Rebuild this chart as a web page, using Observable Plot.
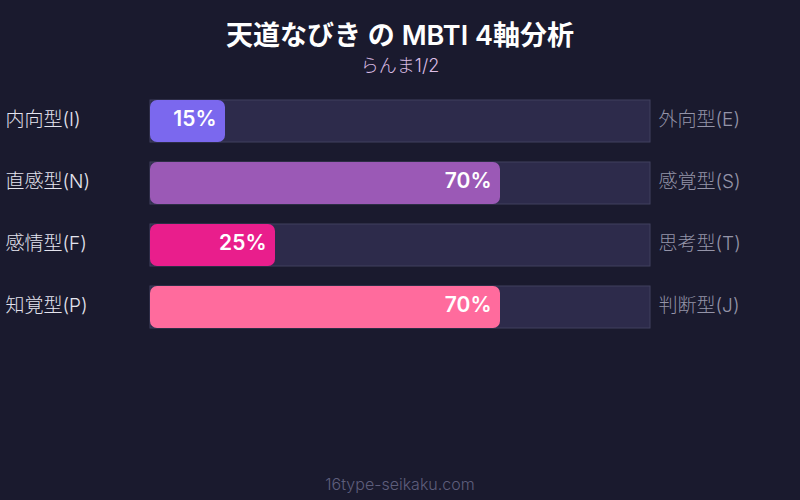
<!DOCTYPE html>
<html><head><meta charset="utf-8">
<script src="https://cdn.jsdelivr.net/npm/d3@7"></script>
<script src="https://cdn.jsdelivr.net/npm/@observablehq/plot@0.6"></script>
<style>
html,body{margin:0;padding:0;background:#1a1a2e;width:800px;height:500px;overflow:hidden;font-family:Inter,"Noto Sans CJK JP",sans-serif;}
#title{position:absolute;left:0;top:14px;width:800px;text-align:center;color:#ffffff;font-size:27px;font-weight:600;}
#sub{position:absolute;left:0;top:51px;width:800px;text-align:center;color:#dcbde4;font-size:18px;font-weight:300;}
#chart{position:absolute;left:0;top:80px;}
#foot{position:absolute;left:0;top:474px;width:800px;text-align:center;color:#5e5e7c;font-size:16px;font-weight:300;}
</style></head>
<body>
<div id="title">天道なびき の MBTI 4軸分析</div>
<div id="sub">らんま1/2</div>
<div id="chart"></div>
<div id="foot">16type-seikaku.com</div>
<script>
const axes = ["IE","NS","FT","PJ"];
const leftLabels = ["内向型(I)","直感型(N)","感情型(F)","知覚型(P)"];
const rightLabels = ["外向型(E)","感覚型(S)","思考型(T)","判断型(J)"];
const values = [15,70,25,70];
const colors = ["#7b68ee","#9b59b6","#e91e8c","#ff6b9d"];

const data = axes.map((a,i)=>({axis:a,left:leftLabels[i],right:rightLabels[i],value:values[i],color:colors[i]}));

const chart = Plot.plot({
  width:800, height:380,
  marginLeft:150, marginRight:150, marginTop:0, marginBottom:112,
  style:{background:"transparent", fontFamily:'Inter,"Noto Sans CJK JP",sans-serif'},
  x:{domain:[0,100], axis:null},
  y:{domain:axes, padding:20/62, axis:null},
  marks:[
    Plot.barX(data,{x1:0,x2:100,y:"axis",fill:"#2d2b4b",stroke:"#40405e",strokeWidth:1}),
    Plot.barX(data,{x1:0,x2:"value",y:"axis",fill:"color",rx:7}),
    Plot.text(data,{x:"value",y:"axis",text:d=>d.value+"%",textAnchor:"end",dx:-9,dy:-2,fill:"#ffffff",fontSize:21,fontWeight:600}),
    Plot.text(data,{x:0,y:"axis",text:"left",textAnchor:"start",dx:-145,dy:-2,fill:"#e4e4ee",fontSize:19,fontWeight:300}),
    Plot.text(data,{x:100,y:"axis",text:"right",textAnchor:"start",dx:8,dy:-2,fill:"#9494a8",fontSize:19,fontWeight:300})
  ]
});
document.getElementById("chart").appendChild(chart);
</script>
</body></html>
